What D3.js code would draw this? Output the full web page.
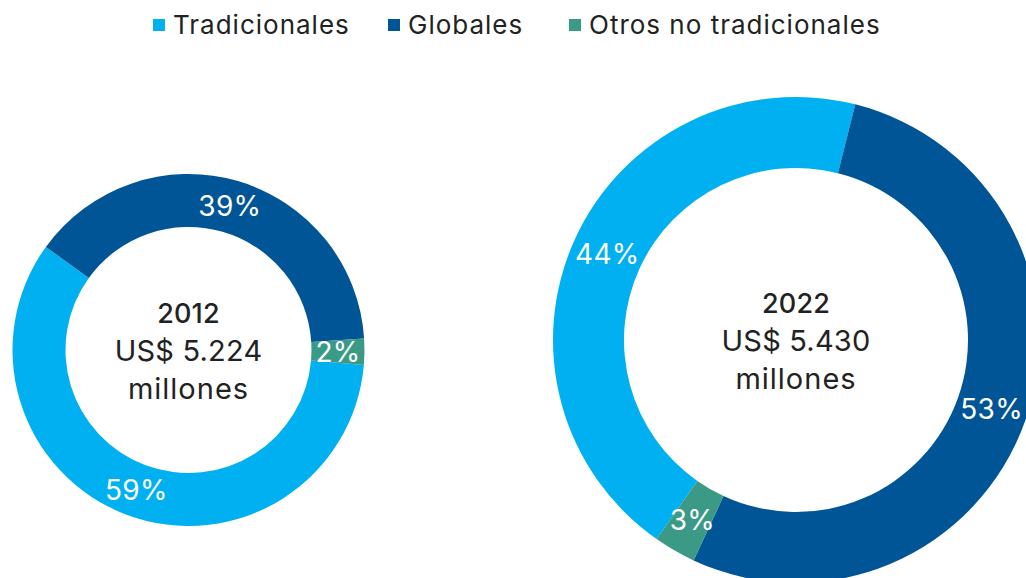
<!DOCTYPE html>
<html>
<head>
<meta charset="utf-8">
<script src="https://cdn.jsdelivr.net/npm/d3@7"></script>
<style>
  html, body { margin: 0; padding: 0; background: #fff; }
  svg { display: block; font-family: "Inter", "Noto Sans", sans-serif; }
</style>
</head>
<body>
<svg id="chart" width="1026" height="578"></svg>
<script>
// ---- data ----
const categories = ["Tradicionales", "Globales", "Otros no tradicionales"];
const years = ["2012", "2022"];
const totals = ["US$ 5.224", "US$ 5.430"];
const unitLabel = "millones";
const shares2012 = [58.6, 39.0, 2.4];
const shares2022 = [44.2, 53.0, 2.8];
const colors = ["#00b0f0", "#005596", "#3a9a86"];

// ---- layout ----
const svg = d3.select("#chart");

const charts = [
  { year: years[0], total: totals[0], values: shares2012, cx: 188.5, cy: 350, r: 176, inner: 123, start: 94.9 },
  { year: years[1], total: totals[1], values: shares2022, cx: 796, cy: 340, r: 243, inner: 172, start: 215.0 }
];

const color = d3.scaleOrdinal().domain(categories).range(colors);

charts.forEach(c => {
  const startRad = c.start * Math.PI / 180;
  const pie = d3.pie().sort(null).value(d => d.v)
    .startAngle(startRad).endAngle(startRad + 2 * Math.PI);
  const arcs = pie(categories.map((k, i) => ({ k, v: c.values[i] })));
  const arc = d3.arc().innerRadius(c.inner).outerRadius(c.r);
  const g = svg.append("g").attr("transform", `translate(${c.cx},${c.cy})`);
  g.selectAll("path").data(arcs).join("path")
    .attr("d", arc)
    .attr("fill", d => color(d.data.k));
  g.selectAll("text.lab").data(arcs).join("text")
    .attr("class", "lab")
    .attr("transform", d => `translate(${arc.centroid(d)})`)
    .attr("text-anchor", "middle")
    .attr("dy", "0.36em")
    .attr("fill", "#fff")
    .attr("font-size", 28)
    .attr("letter-spacing", 0.3)
    .text(d => Math.round(d.data.v) + "%");
  const lines = [c.year, c.total, unitLabel];
  g.selectAll("text.center").data(lines).join("text")
    .attr("class", "center")
    .attr("text-anchor", "middle")
    .attr("y", (d, i) => (i - 1) * 38 + 1)
    .attr("dy", "0.36em")
    .attr("fill", "#222")
    .attr("font-size", (d, i) => i === 0 ? 27 : 29)
    .attr("font-weight", (d, i) => i === 0 ? 500 : 400)
    .attr("letter-spacing", (d, i) => i === 2 ? 1 : 0.2)
    .text(d => d);
});

// ---- legend ----
const legendX = [153, 388, 569];
const lg = svg.append("g");
categories.forEach((k, i) => {
  const item = lg.append("g").attr("transform", `translate(${legendX[i]},25)`);
  item.append("rect").attr("x", 0).attr("y", -6).attr("width", 12).attr("height", 12)
    .attr("fill", color(k));
  item.append("text").attr("x", 20).attr("dy", "0.36em")
    .attr("fill", "#222").attr("font-size", 26).attr("letter-spacing", 1)
    .text(k);
});
</script>
</body>
</html>
